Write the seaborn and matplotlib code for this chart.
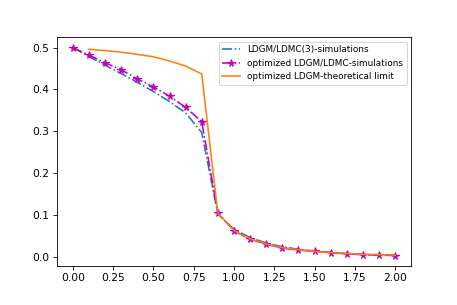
import matplotlib
matplotlib.use("Agg")
import matplotlib.pyplot as plt
import seaborn as sns

# rate axis (0 .. 2 in steps of 0.1)
x_vals = [0.0, 0.1, 0.2, 0.3, 0.4, 0.5, 0.6, 0.7, 0.8, 0.9, 1.0,
          1.1, 1.2, 1.3, 1.4, 1.5, 1.6, 1.7, 1.8, 1.9, 2.0]

ldgm3_sim = [0.500, 0.479, 0.458, 0.438, 0.417, 0.395, 0.371, 0.344, 0.297, 0.102, 0.066,
             0.046, 0.033, 0.024, 0.018, 0.014, 0.011, 0.008, 0.006, 0.005, 0.004]

opt_sim = [0.500, 0.482, 0.464, 0.447, 0.425, 0.406, 0.384, 0.357, 0.323, 0.105, 0.062,
           0.042, 0.030, 0.021, 0.016, 0.013, 0.010, 0.007, 0.005, 0.004, 0.003]

x_theory = x_vals[1:]
opt_theory = [0.496, 0.493, 0.489, 0.484, 0.478, 0.468, 0.456, 0.437, 0.104, 0.063,
              0.043, 0.031, 0.022, 0.017, 0.013, 0.010, 0.008, 0.006, 0.005, 0.004]

labels = ["LDGM/LDMC(3)-simulations",
          "optimized LDGM/LDMC-simulations",
          "optimized LDGM-theoretical limit"]

dpi = 457 / 6
fig, ax = plt.subplots(figsize=(6, 305 / dpi), dpi=dpi)
fig.subplots_adjust(left=0.124, right=0.9, top=0.878, bottom=0.128)

sns.lineplot(x=x_vals, y=ldgm3_sim, ax=ax, color="tab:blue", linestyle="-.",
             label=labels[0])
sns.lineplot(x=x_vals, y=opt_sim, ax=ax, color="m", linestyle="-.", marker="*",
             markersize=7, markeredgecolor="m", markeredgewidth=1, label=labels[1])
sns.lineplot(x=x_theory, y=opt_theory, ax=ax, color="tab:orange", linestyle="-",
             label=labels[2])

ax.set_xticks([0.0, 0.25, 0.5, 0.75, 1.0, 1.25, 1.5, 1.75, 2.0])
ax.legend(loc="upper right", fontsize=8.4)

fig.savefig("out.png", dpi=dpi)
